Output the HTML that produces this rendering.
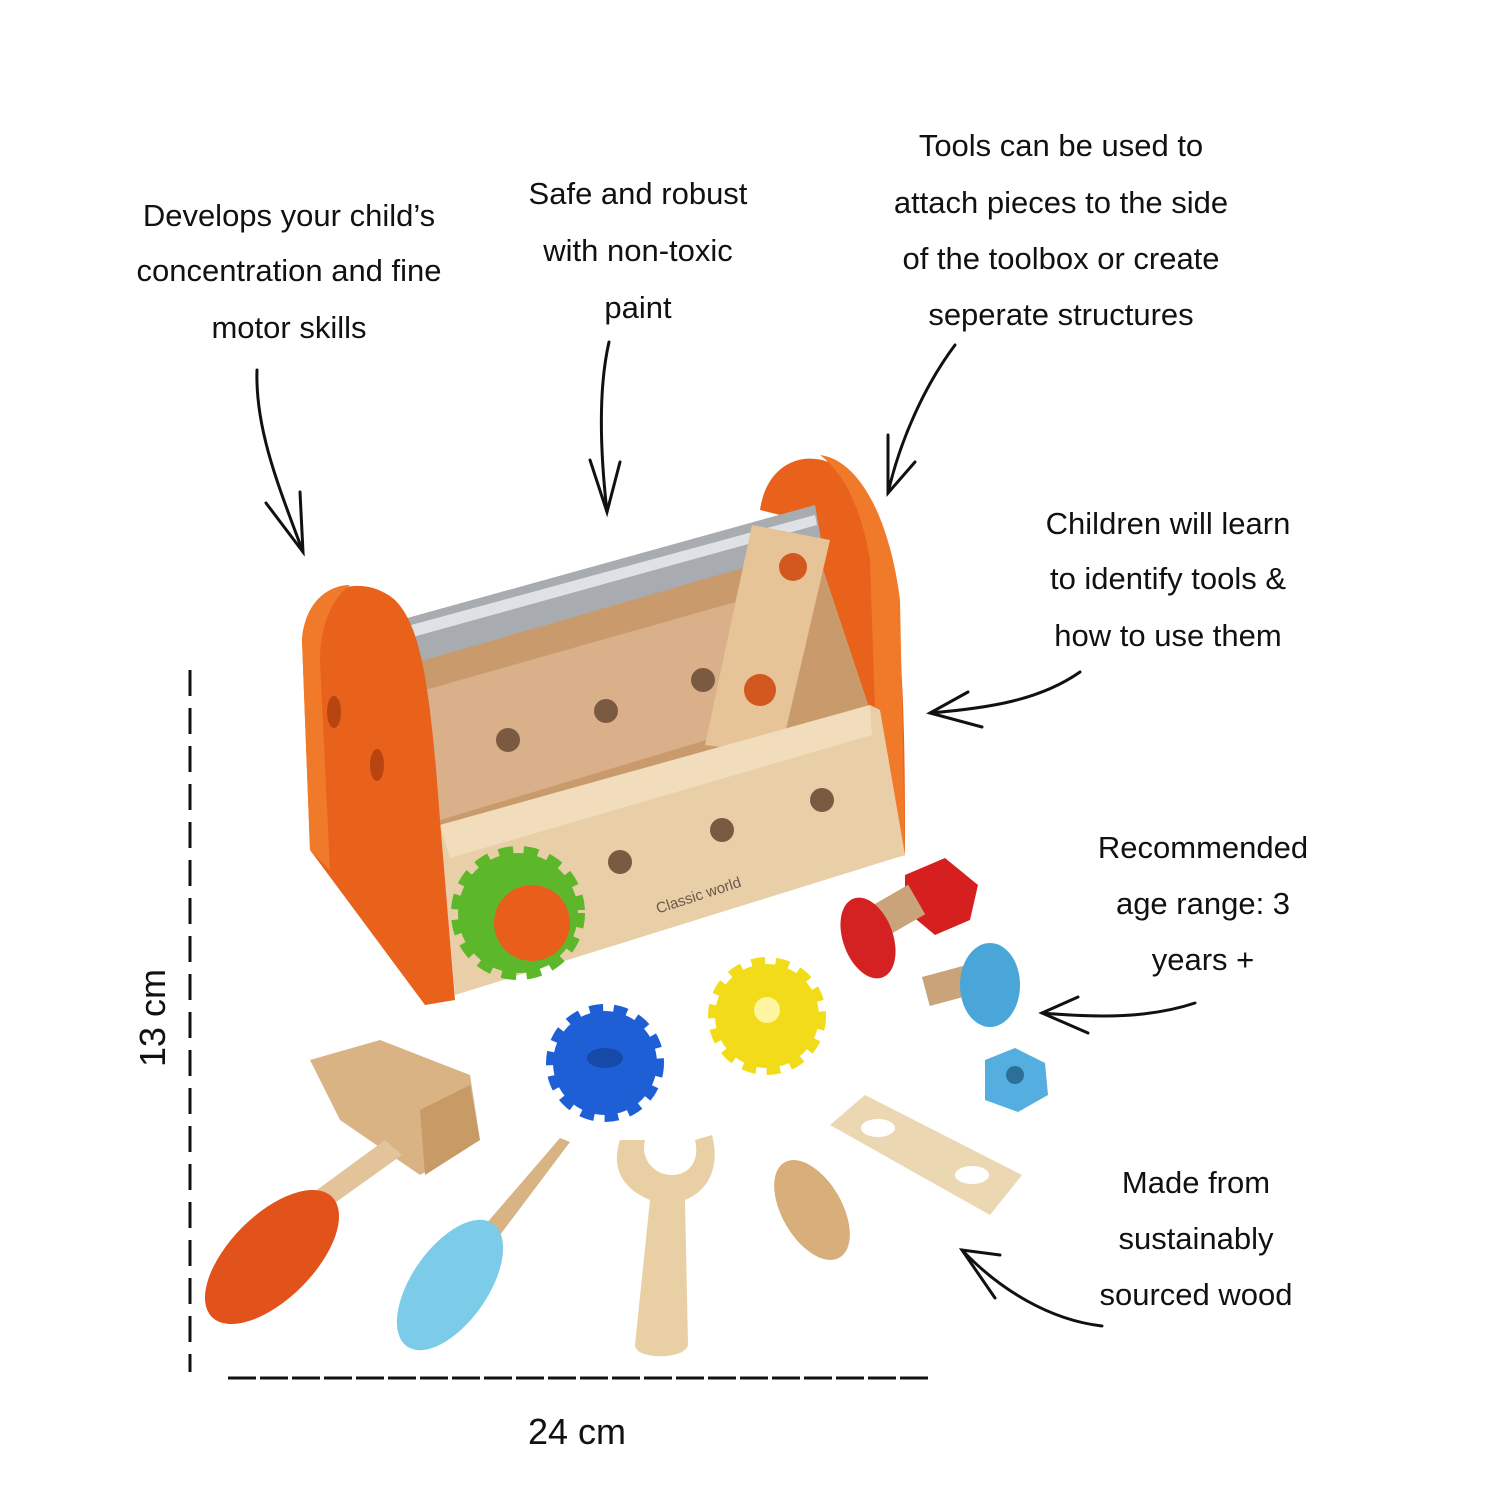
<!DOCTYPE html>
<html><head><meta charset="utf-8"><style>
html,body{margin:0;padding:0;background:#fff}
svg{display:block}
text{font-family:"Liberation Sans",sans-serif;font-size:31px;fill:#111;text-anchor:middle}
</style></head><body>
<svg width="1500" height="1500" viewBox="0 0 1500 1500">
<text x="289" y="226">Develops your child’s</text>
<text x="289" y="281">concentration and fine</text>
<text x="289" y="338">motor skills</text>
<text x="638" y="204">Safe and robust</text>
<text x="638" y="261">with non-toxic</text>
<text x="638" y="318">paint</text>
<text x="1061" y="156">Tools can be used to</text>
<text x="1061" y="213">attach pieces to the side</text>
<text x="1061" y="269">of the toolbox or create</text>
<text x="1061" y="325">seperate structures</text>
<text x="1168" y="534">Children will learn</text>
<text x="1168" y="589">to identify tools &amp;</text>
<text x="1168" y="646">how to use them</text>
<text x="1203" y="858">Recommended</text>
<text x="1203" y="914">age range: 3</text>
<text x="1203" y="970">years +</text>
<text x="1196" y="1193">Made from</text>
<text x="1196" y="1249">sustainably</text>
<text x="1196" y="1305">sourced wood</text>
<text x="577" y="1444" style="font-size:36px">24 cm</text>
<text x="0" y="0" transform="translate(165,1018) rotate(-90)" style="font-size:36px">13 cm</text>

<g fill="none" stroke="#111" stroke-width="3" stroke-linecap="round">
<path d="M257 370 C255 430 280 490 303 552"/><path d="M266 503 L303 552 L300 492"/>
<path d="M609 342 C598 390 600 450 607 512"/><path d="M590 460 L607 512 L620 462"/>
<path d="M955 345 C925 385 900 440 888 493"/><path d="M888 435 L888 493 L915 462"/>
<path d="M1080 672 C1040 700 990 708 930 713"/><path d="M968 692 L930 713 L982 727"/>
<path d="M1195 1003 C1150 1018 1100 1018 1042 1013"/><path d="M1078 997 L1042 1013 L1088 1033"/>
<path d="M1102 1326 C1050 1320 1000 1290 962 1250"/><path d="M1000 1255 L962 1250 L995 1298"/>
</g>
<line x1="190" y1="670" x2="190" y2="1372" stroke="#111" stroke-width="3" stroke-dasharray="26,12"/>
<line x1="228" y1="1378" x2="930" y2="1378" stroke="#111" stroke-width="3" stroke-dasharray="28,4"/>

<path d="M760 510 C770 440 850 440 880 520 C905 600 905 750 905 855 L880 862 L800 520 Z" fill="#e8621b"/>
<path d="M820 455 C860 460 890 520 900 600 L905 855 L880 860 L870 560 C860 500 840 470 820 455Z" fill="#f07a2a"/>
<path d="M410 640 L810 530 L870 710 L440 830 Z" fill="#c99a6c"/>
<path d="M425 690 L760 595 L790 715 L440 820 Z" fill="#d9b08a"/>
<path d="M400 620 L815 505 L822 545 L408 665 Z" fill="#a8acb0"/>
<path d="M400 628 L815 515 L817 525 L402 640 Z" fill="#dfe2e5"/>
<path d="M752 525 L830 540 L780 755 L705 745 Z" fill="#e6c497"/>
<circle cx="793" cy="567" r="14" fill="#d2581f"/><circle cx="760" cy="690" r="16" fill="#d2581f"/>
<path d="M440 825 L870 705 L880 710 L905 855 L455 995 Z" fill="#e9cfa7"/>
<path d="M440 825 L870 705 L872 735 L450 858 Z" fill="#f1dcbb"/>
<circle cx="508" cy="740" r="12" fill="#7a5a40"/><circle cx="606" cy="711" r="12" fill="#7a5a40"/><circle cx="703" cy="680" r="12" fill="#7a5a40"/>
<circle cx="620" cy="862" r="12" fill="#7a5a40"/><circle cx="722" cy="830" r="12" fill="#7a5a40"/><circle cx="822" cy="800" r="12" fill="#7a5a40"/>
<text x="700" y="900" transform="rotate(-18 700 900)" style="font-size:15px;fill:#6b5a4a">Classic world</text>
<path d="M302 640 C305 590 360 570 395 600 C420 625 430 680 440 820 L455 1000 L425 1005 L310 850 Z" fill="#e8621b"/>
<path d="M302 640 C305 600 330 585 350 585 C330 600 320 630 320 660 L330 870 L310 850 Z" fill="#f07a2a"/>
<ellipse cx="334" cy="712" rx="7" ry="16" fill="#b8440f"/><ellipse cx="377" cy="765" rx="7" ry="16" fill="#b8440f"/>
<circle cx="518" cy="913" r="60" fill="#5cb82a" stroke="#5cb82a" stroke-width="14" stroke-dasharray="14,10"/>
<circle cx="532" cy="923" r="38" fill="#ea5e1c"/>
<path d="M905 875 L945 858 L978 885 L970 920 L935 935 L905 910Z" fill="#d62020"/>
<rect x="870" y="895" width="50" height="34" fill="#c9a37a" transform="rotate(-30 895 912)"/>
<ellipse cx="868" cy="938" rx="25" ry="42" fill="#d42222" transform="rotate(-20 868 938)"/>
<rect x="925" y="970" width="50" height="30" fill="#c9a37a" transform="rotate(-15 950 985)"/>
<ellipse cx="990" cy="985" rx="30" ry="42" fill="#4aa6d8"/>
<path d="M985 1060 L1015 1048 L1045 1063 L1048 1095 L1018 1112 L985 1100Z" fill="#55aee0"/>
<circle cx="1015" cy="1075" r="9" fill="#2c6f99"/>
<circle cx="767" cy="1016" r="52" fill="#f2dc1a" stroke="#f2dc1a" stroke-width="14" stroke-dasharray="13,10"/>
<circle cx="767" cy="1010" r="13" fill="#fff4a0"/>
<circle cx="605" cy="1063" r="52" fill="#1f5fd6" stroke="#1f5fd6" stroke-width="14" stroke-dasharray="13,10"/>
<ellipse cx="605" cy="1058" rx="18" ry="10" fill="#164aa8"/>
<path d="M310 1060 L380 1040 L470 1075 L480 1140 L420 1175 L340 1120 Z" fill="#d9b384"/>
<path d="M420 1110 L470 1085 L480 1140 L425 1175Z" fill="#c79a66"/>
<path d="M385 1140 L402 1155 L325 1210 L310 1195Z" fill="#e3c49a"/>
<ellipse cx="272" cy="1257" rx="42" ry="85" fill="#e2531b" transform="rotate(45 272 1257)"/>
<path d="M560 1138 L570 1142 L500 1235 L485 1225 Z" fill="#d8b384"/>
<ellipse cx="450" cy="1285" rx="38" ry="75" fill="#7ccbe8" transform="rotate(35 450 1285)"/>
<path d="M620 1140 C610 1170 625 1190 650 1200 L635 1345 C635 1360 685 1360 688 1345 L685 1200 C710 1190 720 1165 712 1135 L695 1140 C700 1160 690 1175 672 1175 C655 1175 640 1160 645 1140Z" fill="#e8d0a4"/>
<ellipse cx="812" cy="1210" rx="30" ry="55" fill="#d8ae7a" transform="rotate(-30 812 1210)"/>
<path d="M830 1125 L865 1095 L1022 1175 L990 1215 Z" fill="#ecd7b3"/>
<ellipse cx="878" cy="1128" rx="17" ry="9" fill="#fff"/><ellipse cx="972" cy="1175" rx="17" ry="9" fill="#fff"/>
</svg>
</body></html>
